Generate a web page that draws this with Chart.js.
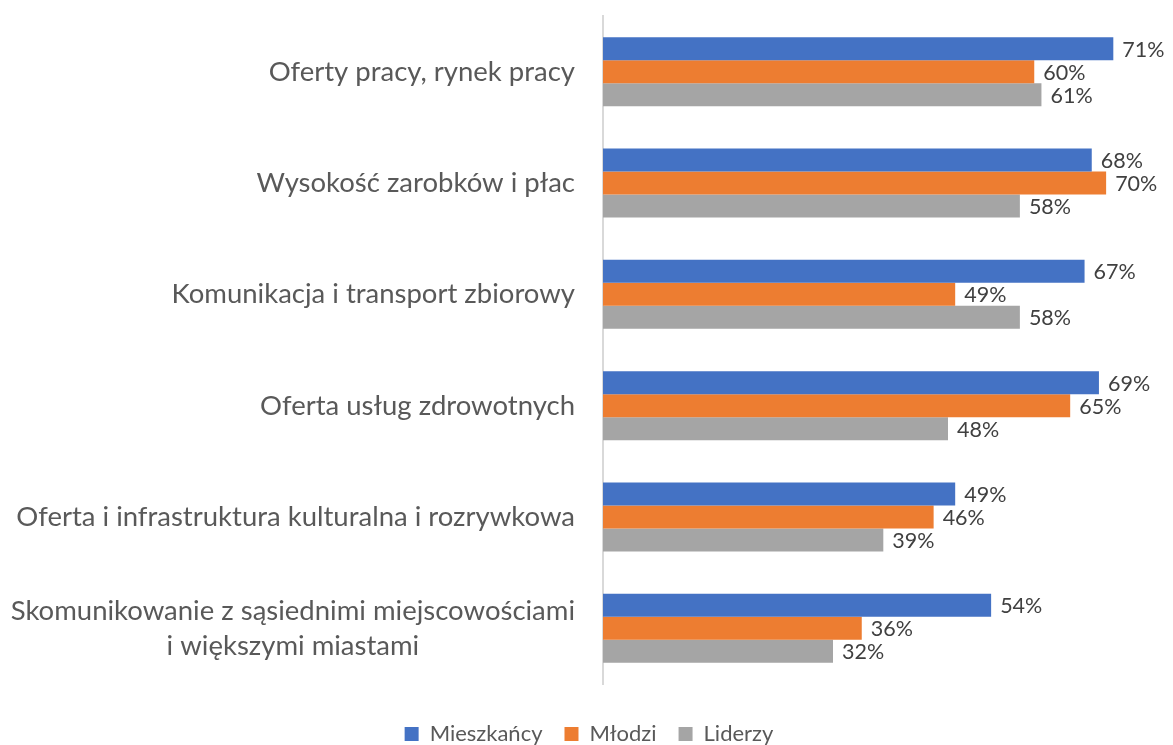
<!DOCTYPE html>
<html lang="pl">
<head>
    <meta charset="UTF-8">
    <title>Czynniki - Mieszkańcy, Młodzi, Liderzy</title>
    <script src="https://cdn.jsdelivr.net/npm/chart.js"></script>
    <style>
        body {
            margin: 0;
            background-color: #ffffff;
            overflow: hidden;
        }
        .wrap {
            width: 1178px;
            height: 755px;
        }
    </style>
</head>
<body>
    <div class="wrap">
        <canvas id="chart"></canvas>
    </div>

    <script>
        // Dane
        const categories = [
            'Oferty pracy, rynek pracy',
            'Wysokość zarobków i płac',
            'Komunikacja i transport zbiorowy',
            'Oferta usług zdrowotnych',
            'Oferta i infrastruktura kulturalna i rozrywkowa',
            ['Skomunikowanie z sąsiednimi miejscowościami', 'i większymi miastami']
        ];
        const mieszkancy = [71, 68, 67, 69, 49, 54];
        const mlodzi = [60, 70, 49, 65, 46, 36];
        const liderzy = [61, 58, 58, 48, 39, 32];

        const FONT = 'Lato';

        // etykiety kategorii (wyśrodkowane wieloliniowo, wyrównane do prawej)
        const categoryLabels = {
            id: 'categoryLabels',
            afterDraw(chart) {
                const ctx = chart.ctx;
                const y = chart.scales.y;
                ctx.save();
                ctx.font = '27.5px ' + FONT;
                ctx.fillStyle = '#595959';
                ctx.textBaseline = 'middle';
                ctx.textAlign = 'center';
                const right = y.right - 28;
                categories.forEach((label, i) => {
                    const lines = Array.isArray(label) ? label : [label];
                    const widest = Math.max(...lines.map(l => ctx.measureText(l).width));
                    const cx = right - widest / 2;
                    const cy = y.getPixelForTick(i);
                    lines.forEach((line, j) => {
                        ctx.fillText(line, cx, cy + (j - (lines.length - 1) / 2) * 35);
                    });
                });
                ctx.restore();
            }
        };

        // etykiety wartości
        const valueLabels = {
            id: 'valueLabels',
            afterDatasetsDraw(chart) {
                const ctx = chart.ctx;
                ctx.save();
                ctx.font = '21.5px ' + FONT;
                ctx.fillStyle = '#404040';
                ctx.textAlign = 'left';
                ctx.textBaseline = 'middle';
                chart.data.datasets.forEach((ds, i) => {
                    chart.getDatasetMeta(i).data.forEach((bar, j) => {
                        ctx.fillText(ds.data[j] + '%', bar.x + 9, bar.y + 1);
                    });
                });
                ctx.restore();
            }
        };

        new Chart(document.getElementById('chart'), {
            type: 'bar',
            data: {
                labels: categories,
                datasets: [
                    { label: 'Mieszkańcy', data: mieszkancy, backgroundColor: '#4472C4' },
                    { label: 'Młodzi', data: mlodzi, backgroundColor: '#ED7D31' },
                    { label: 'Liderzy', data: liderzy, backgroundColor: '#A5A5A5' }
                ]
            },
            options: {
                indexAxis: 'y',
                responsive: true,
                maintainAspectRatio: false,
                animation: false,
                layout: { padding: { top: 16, bottom: 0, left: 0, right: 0 } },
                datasets: {
                    bar: { categoryPercentage: 0.62, barPercentage: 1 }
                },
                scales: {
                    x: {
                        min: 0,
                        max: 80,
                        grid: { display: false },
                        border: { display: false },
                        ticks: { display: false },
                        afterFit(scale) { scale.height = 17; }
                    },
                    y: {
                        grid: { display: false },
                        border: { display: true, color: '#d9d9d9', width: 2 },
                        ticks: { display: false },
                        afterFit(scale) { scale.width = 603; }
                    }
                },
                plugins: {
                    tooltip: { enabled: false },
                    legend: {
                        position: 'bottom',
                        labels: {
                            boxWidth: 14,
                            boxHeight: 14,
                            padding: 22,
                            color: '#595959',
                            font: { family: FONT, size: 22 }
                        }
                    }
                }
            },
            plugins: [categoryLabels, valueLabels]
        });
    </script>
</body>
</html>
